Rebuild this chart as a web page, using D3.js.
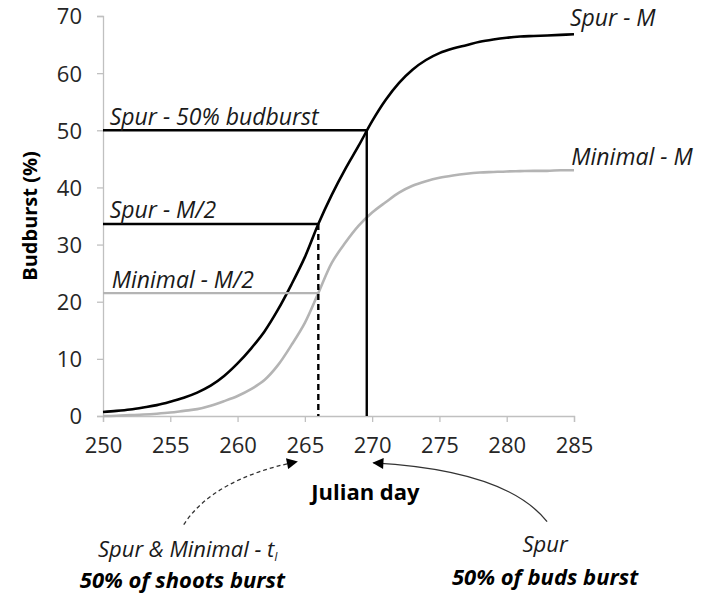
<!DOCTYPE html>
<html>
<head>
<meta charset="utf-8">
<script src="https://cdn.jsdelivr.net/npm/d3@7"></script>
<style>
  body { margin: 0; background: #fff; }
  svg text { font-family: "Open Sans", "Noto Sans", sans-serif; }
</style>
</head>
<body>
<div id="chart"></div>
<script>
// julian days on the x axis
var days = [250, 251, 252, 253, 254, 255, 256, 257, 258, 259, 260, 261,
            262, 263, 264, 265, 266, 267, 268, 269, 270, 271, 272, 273,
            274, 275, 276, 277, 278, 279, 280, 281, 282, 283, 284, 285];

// budburst (%)
var spurValues = [0.7, 0.9, 1.15, 1.5, 1.9, 2.5, 3.2, 4.1, 5.3, 7.0, 9.2, 11.8,
                  14.8, 18.6, 23.0, 27.8, 33.6, 38.7, 43.2, 47.3, 51.6, 55.3, 58.3, 60.6,
                  62.3, 63.5, 64.3, 64.9, 65.5, 65.9, 66.2, 66.4, 66.5, 66.6, 66.7, 66.8];
var minimalValues = [0.0, 0.05, 0.15, 0.25, 0.4, 0.6, 0.9, 1.2, 1.8, 2.6, 3.5, 4.7,
                     6.3, 8.9, 12.4, 16.3, 21.5, 26.8, 30.3, 33.3, 35.6, 37.4, 39.1, 40.3,
                     41.1, 41.7, 42.1, 42.4, 42.6, 42.7, 42.8, 42.85, 42.9, 42.9, 43.0, 43.0];

var xTicks = [250, 255, 260, 265, 270, 275, 280, 285];
var yTicks = [0, 10, 20, 30, 40, 50, 60, 70];

// reference values
var spurHalf = 33.6;      // Spur - M/2
var minimalHalf = 21.5;   // Minimal - M/2
var spur50 = 50;          // Spur - 50% budburst
var tI = 266;             // day of M/2 for both
var spur50Day = 269.6;    // day of 50% budburst for spur

var width = 702, height = 594;

var svg = d3.select("#chart").append("svg")
    .attr("width", width)
    .attr("height", height);

svg.append("defs").append("marker")
    .attr("id", "head")
    .attr("viewBox", "0 0 10 10")
    .attr("refX", 9).attr("refY", 5)
    .attr("markerWidth", 13).attr("markerHeight", 11)
    .attr("markerUnits", "userSpaceOnUse")
    .attr("orient", "auto")
  .append("path")
    .attr("d", "M0,0L10,5L0,10Z")
    .attr("fill", "#000");

var x = d3.scaleLinear().domain([250, 285]).range([103, 574]);
var y = d3.scaleLinear().domain([0, 70]).range([416, 16]);

//axes
var xAxis = svg.append("g")
    .attr("transform", "translate(0," + y(0) + ")")
    .call(d3.axisBottom(x).tickValues(xTicks).tickSize(6).tickPadding(15));
var yAxis = svg.append("g")
    .attr("transform", "translate(" + x(250) + ",0)")
    .call(d3.axisLeft(y).tickValues(yTicks).tickSize(6).tickPadding(15));

[xAxis, yAxis].forEach(function(a) {
    a.select(".domain").attr("stroke", "#c0c0c0").attr("stroke-width", 1.3);
    a.selectAll(".tick line").attr("stroke", "#c0c0c0").attr("stroke-width", 1.3);
    a.selectAll(".tick text")
        .attr("font-size", 22)
        .attr("fill", "#262626")
        .attr("font-family", "'Open Sans', sans-serif");
});
yAxis.selectAll(".tick text").attr("dy", "0.36em");

// axis titles
svg.append("text")
    .attr("transform", "translate(37," + y(35) + ") rotate(-90)")
    .attr("text-anchor", "middle")
    .attr("font-size", 20)
    .attr("font-weight", "bold")
    .attr("fill", "#000")
    .text("Budburst (%)");

svg.append("text")
    .attr("x", x(269.5))
    .attr("y", 500)
    .attr("text-anchor", "middle")
    .attr("font-size", 22)
    .attr("font-weight", "bold")
    .attr("fill", "#000")
    .text("Julian day");

// curves
var line = d3.line()
    .x(function(d, i) { return x(days[i]); })
    .y(function(d) { return y(d); })
    .curve(d3.curveCatmullRom.alpha(0.5));

svg.append("path")
    .datum(minimalValues)
    .attr("d", line)
    .attr("fill", "none")
    .attr("stroke", "#b4b4b4")
    .attr("stroke-width", 2.6);

svg.append("path")
    .datum(spurValues)
    .attr("d", line)
    .attr("fill", "none")
    .attr("stroke", "#000")
    .attr("stroke-width", 2.6);

// reference lines
var refs = [
    {x1: 250, y1: minimalHalf, x2: tI, y2: minimalHalf, color: "#b4b4b4", dash: null},
    {x1: 250, y1: spurHalf, x2: tI, y2: spurHalf, color: "#000", dash: null},
    {x1: tI, y1: spurHalf, x2: tI, y2: 0, color: "#000", dash: "6,4"},
    {x1: 250, y1: spur50, x2: spur50Day, y2: spur50, color: "#000", dash: null},
    {x1: spur50Day, y1: spur50, x2: spur50Day, y2: 0, color: "#000", dash: null}
];
svg.selectAll("line.ref").data(refs).enter().append("line")
    .attr("class", "ref")
    .attr("x1", function(d) { return x(d.x1); })
    .attr("y1", function(d) { return y(d.y1); })
    .attr("x2", function(d) { return x(d.x2); })
    .attr("y2", function(d) { return y(d.y2); })
    .attr("stroke", function(d) { return d.color; })
    .attr("stroke-width", 2.4)
    .attr("stroke-dasharray", function(d) { return d.dash; });

// labels inside the plot
var labels = [
    {text: "Spur - 50% budburst", day: 250.5, val: spur50 + 0.9},
    {text: "Spur - M/2", day: 250.5, val: spurHalf + 1.0},
    {text: "Minimal - M/2", day: 250.65, val: minimalHalf + 0.9},
    {text: "Spur - M", day: 284.7, val: 68.2},
    {text: "Minimal - M", day: 284.8, val: 43.9}
];
svg.selectAll("text.lab").data(labels).enter().append("text")
    .attr("class", "lab")
    .attr("x", function(d) { return x(d.day); })
    .attr("y", function(d) { return y(d.val); })
    .attr("font-size", 23)
    .attr("font-style", "italic")
    .attr("fill", "#1a1a1a")
    .text(function(d) { return d.text; });

// bottom notes
var note1 = svg.append("text")
    .attr("x", x(256.3))
    .attr("y", 557)
    .attr("text-anchor", "middle")
    .attr("font-size", 22)
    .attr("font-style", "italic")
    .attr("fill", "#1a1a1a");
note1.append("tspan").text("Spur & Minimal - t");
note1.append("tspan").attr("font-size", 12).attr("dy", 4).text("I");

svg.append("text")
    .attr("x", x(255.9))
    .attr("y", 588)
    .attr("text-anchor", "middle")
    .attr("font-size", 22)
    .attr("font-style", "italic")
    .attr("font-weight", "bold")
    .attr("fill", "#000")
    .text("50% of shoots burst");

svg.append("text")
    .attr("x", x(282.85))
    .attr("y", 552)
    .attr("text-anchor", "middle")
    .attr("font-size", 22)
    .attr("font-style", "italic")
    .attr("fill", "#1a1a1a")
    .text("Spur");

svg.append("text")
    .attr("x", x(282.85))
    .attr("y", 585)
    .attr("text-anchor", "middle")
    .attr("font-size", 22)
    .attr("font-style", "italic")
    .attr("font-weight", "bold")
    .attr("fill", "#000")
    .text("50% of buds burst");

// curved arrows, points in data units (below the axis)
var arrowDashed = [[256.0, -19.0], [258.2, -11.0], [264.4, -8.0]];
var arrowSolid = [[283.0, -18.5], [280.0, -9.5], [270.1, -8.2]];

function arrowPath(p) {
    return "M" + x(p[0][0]) + "," + y(p[0][1]) +
        "Q" + x(p[1][0]) + "," + y(p[1][1]) + " " + x(p[2][0]) + "," + y(p[2][1]);
}

svg.append("path")
    .attr("d", arrowPath(arrowDashed))
    .attr("fill", "none")
    .attr("stroke", "#333")
    .attr("stroke-width", 1.3)
    .attr("stroke-dasharray", "4,3")
    .attr("marker-end", "url(#head)");

svg.append("path")
    .attr("d", arrowPath(arrowSolid))
    .attr("fill", "none")
    .attr("stroke", "#333")
    .attr("stroke-width", 1.3)
    .attr("marker-end", "url(#head)");
</script>
</body>
</html>
